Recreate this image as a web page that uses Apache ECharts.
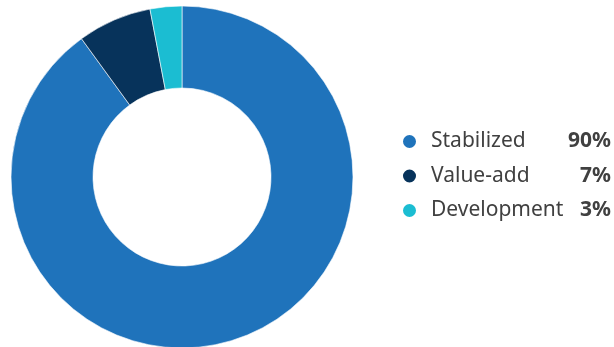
<!DOCTYPE html>
<html><head><meta charset="utf-8">
<script src="https://cdn.jsdelivr.net/npm/echarts@6/dist/echarts.min.js"></script>
<style>html,body{margin:0;padding:0;background:#fff}#c{width:614px;height:347px}</style>
</head><body><div id="c"></div>
<script>
const categories = ['Stabilized', 'Value-add', 'Development'];
const values = [90, 7, 3];
const colors = ['#1f73bb', '#07335b', '#1bbdd2'];
const chart = echarts.init(document.getElementById('c'));
chart.setOption({
  animation: false,
  color: colors,
  legend: {
    orient: 'vertical', left: 401, top: 131, itemGap: 13.5, padding: 0,
    icon: 'circle', itemWidth: 25, itemHeight: 15,
    data: categories,
    formatter: function (n) {
      const i = categories.indexOf(n);
      return '{n|' + n + '}{v|' + values[i] + '%}';
    },
    textStyle: {
      rich: {
        n: { fontFamily: 'Noto Sans', fontSize: 21, lineHeight: 21, color: '#404040', width: 130, padding: [0, 0, 0, 4] },
        v: { fontFamily: 'Noto Sans', fontSize: 21, lineHeight: 21, fontWeight: 'bold', color: '#404040', width: 50, align: 'right' }
      }
    }
  },
  series: [{
    type: 'pie', center: [182, 177], radius: [89, 171], startAngle: 90,
    label: { show: false }, labelLine: { show: false },
    itemStyle: { borderColor: '#fff', borderWidth: 0.6 },
    data: categories.map((c, i) => ({ name: c, value: values[i] }))
  }]
});
</script></body></html>
